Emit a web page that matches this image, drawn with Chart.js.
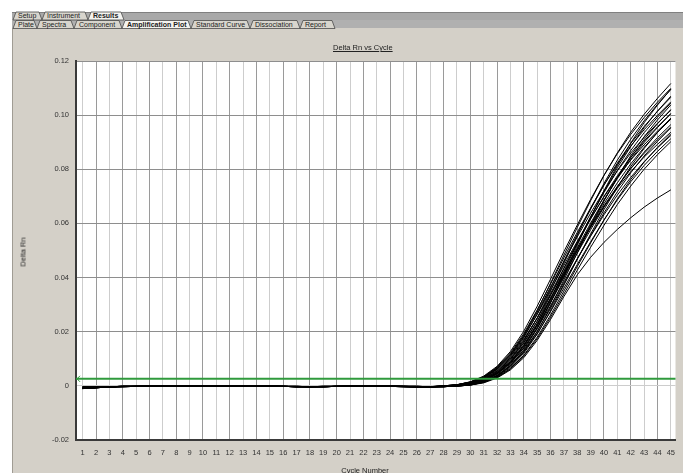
<!DOCTYPE html>
<html>
<head>
<meta charset="utf-8">
<script src="https://cdn.jsdelivr.net/npm/chart.js@4.4.1/dist/chart.umd.min.js"></script>
<style>
  html, body { margin: 0; padding: 0; background: #fff; }
  #wrap { position: relative; width: 683px; height: 473px; overflow: hidden;
          font-family: "Liberation Sans", Arial, sans-serif; }
  #panel { position: absolute; left: 12px; top: 28px; right: 0; bottom: 0;
           background: #d4d0c8; border-left: 1px solid #a09c94; }
  #tabs { position: absolute; left: 0; top: 0; }
  #c { position: absolute; left: 0; top: 0; }
  .lbl { position: absolute; font-size: 7.5px; color: #222; white-space: nowrap; }
  #title { left: 333px; top: 43px; text-decoration: underline; }
  #ytitle { left: 23px; top: 252px; transform: translate(-50%, -50%) rotate(-90deg); }
  #xtitle { left: 365px; top: 470px; transform: translate(-50%, -50%); }
</style>
</head>
<body>
<div id="wrap">
  <div id="panel"></div>
  <svg id="tabs" width="683" height="29"></svg>
  <canvas id="c" width="683" height="473"></canvas>
  <div class="lbl" id="title">Delta Rn vs Cycle</div>
  <div class="lbl" id="ytitle">Delta Rn</div>
  <div class="lbl" id="xtitle">Cycle Number</div>
</div>
<script>
// Cycle numbers on the x axis
const cycles = [1,2,3,4,5,6,7,8,9,10,11,12,13,14,15,16,17,18,19,20,21,22,23,
  24,25,26,27,28,29,30,31,32,33,34,35,36,37,38,39,40,41,42,43,44,45];

// Y axis ticks and their labels
const yTicks  = [-0.02, 0, 0.02, 0.04, 0.06, 0.08, 0.10, 0.12];
const yLabels = ['-0.02', '0', '0.02', '0.04', '0.06', '0.08', '0.10', '0.12'];

// Detection threshold (Delta Rn)
const threshold = 0.0026;

// Baseline Delta Rn, cycles 1-27 (three baseline patterns)
const baseA = [-0.0008,-0.0006,-0.0003,-0.0002,-0.0002,-0.0001,-0.0001,-0.0001,0.0000,0.0001,
  0.0001,0.0000,-0.0001,-0.0001,-0.0001,-0.0002,-0.0003,-0.0003,-0.0003,-0.0002,
  -0.0002,-0.0001,-0.0001,-0.0001,-0.0002,-0.0003,-0.0003];
const baseB = [-0.0004,-0.0004,-0.0003,-0.0002,-0.0002,-0.0002,-0.0001,-0.0001,-0.0001,0.0000,
  0.0001,0.0000,-0.0001,-0.0001,-0.0002,-0.0002,-0.0002,-0.0003,-0.0003,-0.0002,
  -0.0001,-0.0001,-0.0001,-0.0002,-0.0003,-0.0004,-0.0004];
const baseC = [-0.0010,-0.0007,-0.0004,-0.0003,-0.0002,-0.0002,-0.0002,-0.0001,-0.0001,0.0000,
  0.0000,-0.0001,-0.0001,-0.0002,-0.0002,-0.0002,-0.0003,-0.0003,-0.0002,-0.0002,
  -0.0002,-0.0001,-0.0002,-0.0002,-0.0002,-0.0002,-0.0003];

// Amplification phase per well, cycles 28-45
const rnA1 = [0.0000,0.0004,0.0015,0.0036,0.0072,0.0127,0.0202,0.0294,0.0394,0.0496,0.0594,0.0689,0.0778,0.0858,0.0929,0.0991,0.1048,0.1099];
const rnA2 = [0.0000,0.0004,0.0014,0.0034,0.0069,0.0122,0.0193,0.0280,0.0376,0.0473,0.0567,0.0657,0.0742,0.0818,0.0886,0.0946,0.0999,0.1049];
const rnA3 = [0.0000,0.0004,0.0014,0.0032,0.0065,0.0114,0.0181,0.0264,0.0354,0.0445,0.0534,0.0619,0.0698,0.0770,0.0834,0.0890,0.0941,0.0987];
const rnA4 = [0.0000,0.0004,0.0013,0.0030,0.0062,0.0109,0.0172,0.0250,0.0336,0.0422,0.0506,0.0587,0.0662,0.0730,0.0791,0.0845,0.0892,0.0937];
const rnA5 = [0.0000,0.0004,0.0014,0.0033,0.0067,0.0118,0.0187,0.0272,0.0365,0.0459,0.0550,0.0638,0.0720,0.0794,0.0860,0.0918,0.0970,0.1018];
const rnA6 = [-0.0001,0.0003,0.0012,0.0029,0.0060,0.0110,0.0178,0.0265,0.0361,0.0461,0.0559,0.0653,0.0742,0.0823,0.0895,0.0958,0.1014,0.1066];
const rnA7 = [-0.0001,0.0003,0.0010,0.0026,0.0054,0.0099,0.0160,0.0238,0.0324,0.0413,0.0501,0.0585,0.0665,0.0737,0.0802,0.0859,0.0909,0.0956];
const rnA8 = [-0.0001,0.0003,0.0011,0.0027,0.0057,0.0104,0.0168,0.0250,0.0341,0.0435,0.0527,0.0616,0.0700,0.0776,0.0844,0.0904,0.0957,0.1006];
const rnA9 = [-0.0001,0.0003,0.0012,0.0030,0.0063,0.0115,0.0186,0.0278,0.0379,0.0483,0.0585,0.0684,0.0777,0.0861,0.0937,0.1003,0.1062,0.1117];
const rnB1 = [-0.0002,0.0001,0.0010,0.0024,0.0053,0.0099,0.0165,0.0251,0.0350,0.0453,0.0556,0.0655,0.0748,0.0834,0.0911,0.0979,0.1040,0.1095];
const rnB2 = [-0.0002,0.0001,0.0009,0.0023,0.0050,0.0095,0.0158,0.0239,0.0334,0.0433,0.0530,0.0625,0.0714,0.0796,0.0869,0.0935,0.0992,0.1045];
const rnB3 = [-0.0002,0.0001,0.0009,0.0022,0.0048,0.0091,0.0152,0.0230,0.0321,0.0416,0.0510,0.0601,0.0687,0.0766,0.0836,0.0899,0.0954,0.1005];
const rnB4 = [-0.0002,0.0001,0.0009,0.0021,0.0047,0.0087,0.0146,0.0221,0.0308,0.0400,0.0490,0.0577,0.0660,0.0735,0.0803,0.0863,0.0917,0.0965];
const rnB5 = [-0.0002,0.0001,0.0008,0.0020,0.0045,0.0084,0.0140,0.0212,0.0296,0.0383,0.0470,0.0553,0.0632,0.0705,0.0770,0.0828,0.0879,0.0925];
const rnB6 = [-0.0002,0.0001,0.0009,0.0022,0.0048,0.0089,0.0149,0.0226,0.0315,0.0408,0.0500,0.0589,0.0673,0.0750,0.0820,0.0881,0.0936,0.0985];
const rnB7 = [-0.0003,0.0000,0.0007,0.0019,0.0042,0.0081,0.0139,0.0215,0.0307,0.0404,0.0501,0.0595,0.0685,0.0769,0.0843,0.0910,0.0968,0.1021];
const rnB8 = [-0.0003,0.0000,0.0007,0.0017,0.0039,0.0076,0.0130,0.0201,0.0286,0.0376,0.0468,0.0555,0.0639,0.0717,0.0787,0.0849,0.0903,0.0953];
const rnB9 = [-0.0003,0.0000,0.0008,0.0020,0.0044,0.0085,0.0146,0.0226,0.0322,0.0423,0.0525,0.0623,0.0718,0.0806,0.0884,0.0954,0.1015,0.1070];
const rnB10 = [-0.0003,0.0000,0.0007,0.0017,0.0037,0.0073,0.0125,0.0193,0.0274,0.0361,0.0448,0.0532,0.0613,0.0687,0.0754,0.0814,0.0866,0.0913];
const rnC1 = [-0.0003,-0.0001,0.0004,0.0016,0.0037,0.0076,0.0133,0.0211,0.0307,0.0412,0.0519,0.0622,0.0721,0.0814,0.0897,0.0972,0.1037,0.1096];
const rnC2 = [-0.0003,-0.0001,0.0004,0.0015,0.0035,0.0072,0.0126,0.0200,0.0291,0.0391,0.0491,0.0589,0.0683,0.0770,0.0850,0.0920,0.0982,0.1038];
const rnC3 = [-0.0003,-0.0001,0.0003,0.0014,0.0034,0.0068,0.0120,0.0191,0.0277,0.0372,0.0468,0.0561,0.0651,0.0734,0.0810,0.0877,0.0936,0.0989];
const rnC4 = [-0.0003,-0.0001,0.0003,0.0013,0.0032,0.0064,0.0113,0.0180,0.0261,0.0350,0.0441,0.0528,0.0612,0.0691,0.0762,0.0826,0.0881,0.0931];
const rnC5 = [-0.0003,-0.0001,0.0003,0.0013,0.0031,0.0062,0.0110,0.0174,0.0253,0.0339,0.0427,0.0512,0.0593,0.0670,0.0738,0.0800,0.0854,0.0902];
const rnD1 = [-0.0003,0.0000,0.0003,0.0011,0.0029,0.0059,0.0104,0.0168,0.0245,0.0330,0.0410,0.0475,0.0530,0.0578,0.0621,0.0660,0.0694,0.0724];

const wellTails = [rnA1, rnA2, rnA3, rnA4, rnA5, rnA6, rnA7, rnA8, rnA9,
                   rnB1, rnB2, rnB3, rnB4, rnB5, rnB6, rnB7, rnB8, rnB9, rnB10,
                   rnC1, rnC2, rnC3, rnC4, rnC5, rnD1];
const baselines = [baseA, baseB, baseC];

// ---- tab strip ----
const tabRow1 = [['Setup', 13, 42, false], ['Instrument', 42, 88, false], ['Results', 88, 124, true]];
const tabRow2 = [['Plate', 13, 37, false], ['Spectra', 37, 74, false], ['Component', 74, 122, false],
                 ['Amplification Plot', 122, 191, true], ['Standard Curve', 191, 250, false],
                 ['Dissociation', 250, 300, false], ['Report', 300, 335, false]];
(function drawTabs() {
  const svg = document.getElementById('tabs');
  let s = '<rect x="12" y="12" width="671" height="8" fill="#a9a9a9"/>' +
          '<rect x="12" y="20" width="671" height="8" fill="#b0b0b0"/>' +
          '<line x1="12" y1="12.5" x2="683" y2="12.5" stroke="#808080"/>';
  function row(tabs, y0, y1) {
    tabs.forEach(([t, a, b, active]) => {
      const fill = active ? '#f4f3ef' : '#d8d5cd';
      s += `<polygon points="${a},${y1} ${a + 3},${y0} ${b - 3},${y0} ${b},${y1}" fill="${fill}" stroke="#4a4a4a" stroke-width="0.8"/>`;
      s += `<text x="${a + 5}" y="${y1 - 1.6}" font-size="7" font-family="Liberation Sans, Arial, sans-serif" fill="#222"${active ? ' font-weight="bold"' : ''}>${t}</text>`;
    });
  }
  row(tabRow1, 12, 20);
  row(tabRow2, 20.5, 28.5);
  svg.innerHTML = s;
})();

// ---- chart ----
const FONT = { family: '"Liberation Sans", Arial, sans-serif', size: 7.5 };

const plotBg = {
  id: 'plotBg',
  beforeDraw(chart) {
    const { ctx, chartArea: a } = chart;
    ctx.save();
    ctx.fillStyle = '#ffffff';
    ctx.fillRect(a.left, a.top, a.right - a.left, a.bottom - a.top);
    ctx.restore();
  }
};

// small arrow marker at the left end of the threshold line
const thresholdArrow = {
  id: 'thresholdArrow',
  afterDatasetsDraw(chart) {
    const { ctx, chartArea: a, scales } = chart;
    const y = scales.y.getPixelForValue(threshold);
    ctx.save();
    ctx.strokeStyle = '#2f9a3c';
    ctx.lineWidth = 1;
    ctx.beginPath();
    ctx.moveTo(a.left + 4, y - 3);
    ctx.lineTo(a.left + 1, y);
    ctx.lineTo(a.left + 4, y + 3);
    ctx.stroke();
    ctx.restore();
  }
};

const datasets = wellTails.map((tail, i) => {
  const series = baselines[i % 3].concat(tail);
  return {
    data: cycles.map((c, k) => ({ x: c, y: series[k] })),
    borderColor: '#000000',
    borderWidth: 1,
    pointRadius: 0,
    tension: 0,
    order: 1
  };
});
datasets.push({
  data: [{ x: 0.5, y: threshold }, { x: 45.4, y: threshold }],
  borderColor: '#2f9a3c',
  borderWidth: 2,
  pointRadius: 0,
  order: 0
});

new Chart(document.getElementById('c'), {
  type: 'line',
  data: { datasets },
  options: {
    responsive: false,
    animation: false,
    events: [],
    layout: { padding: { top: 61, left: 0, right: 0, bottom: 0 } },
    plugins: { legend: { display: false }, tooltip: { enabled: false } },
    scales: {
      x: {
        type: 'linear',
        min: 0.5,
        max: 45.35,
        afterBuildTicks: s => { s.ticks = cycles.map(v => ({ value: v })); },
        afterFit: s => { s.height = 33; },
        grid: {
          drawTicks: false,
          lineWidth: 1,
          color: c => (c.tick && c.tick.value % 2 === 0) ? '#9a9a9a' : '#cdcdcd'
        },
        border: { display: true, color: '#3a3a3a', width: 2 },
        ticks: { font: FONT, color: '#333', padding: 8, maxRotation: 0, autoSkip: false,
                 callback: v => String(v) }
      },
      y: {
        min: -0.02,
        max: 0.12,
        afterBuildTicks: s => { s.ticks = yTicks.map(v => ({ value: v })); },
        afterFit: s => { s.width = 76; },
        grid: {
          drawTicks: false,
          lineWidth: 1,
          color: c => (c.tick && Math.abs(c.tick.value) < 1e-9) ? '#cdcdcd' : '#8e8e8e'
        },
        border: { display: true, color: '#3a3a3a', width: 2 },
        ticks: { font: FONT, color: '#333', padding: 7,
                 callback: (v, i) => yLabels[i] }
      }
    }
  },
  plugins: [plotBg, thresholdArrow]
});
</script>
</body>
</html>
